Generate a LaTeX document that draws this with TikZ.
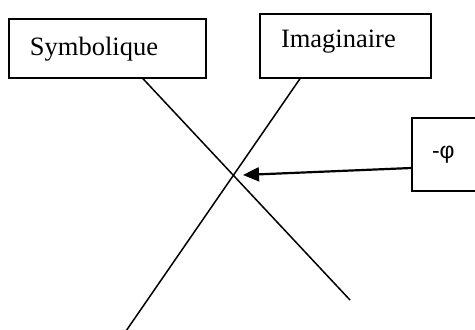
\documentclass[tikz,border=0pt]{standalone}
\usepackage{fontspec}
\setmainfont{Liberation Serif}
\newfontfamily\phifont{Liberation Sans}
\usetikzlibrary{positioning, arrows.meta}

\begin{document}
\begin{tikzpicture}[x=1pt, y=-1pt,
    boite/.style={draw, line width=1.4pt, inner xsep=21pt, inner ysep=0pt, align=left,
        font=\fontsize{26.5}{30}\selectfont},
    trait/.style={line width=1.5pt},
    fleche/.style={line width=2.2pt, -{Triangle[length=16pt, width=14pt]}}]
    \useasboundingbox (0,0) rectangle (475,330);
    \clip (0,0) rectangle (475,330);

    % Boxes
    \node[boite, minimum width=197pt, minimum height=59pt, text width=155pt,
        text height=18pt, text depth=5pt] (symb) at (107.5,48.5) {Symbolique};
    \node[boite, minimum width=171pt, minimum height=64pt, text width=129pt,
        text height=12pt, text depth=9pt] (imag) at (345.5,46) {Imaginaire};
    \node[boite, inner xsep=20pt, minimum width=72pt, minimum height=73pt, text width=32pt,
        font=\phifont\fontsize{23}{27}\selectfont] (phi) at (448,154.5) {-φ};

    % The cross
    \coordinate (basS) at (350,300);
    \coordinate (basI) at (126,331);
    \draw[trait] ([xshift=35.5pt]symb.south) -- (basS);
    \draw[trait] ([xshift=-45.5pt]imag.south) -- (basI);

    % Arrow to the crossing
    \coordinate (croix) at (243,175);
    \draw[fleche] ([yshift=-13.5pt]phi.west) -- (croix);
\end{tikzpicture}
\end{document}
